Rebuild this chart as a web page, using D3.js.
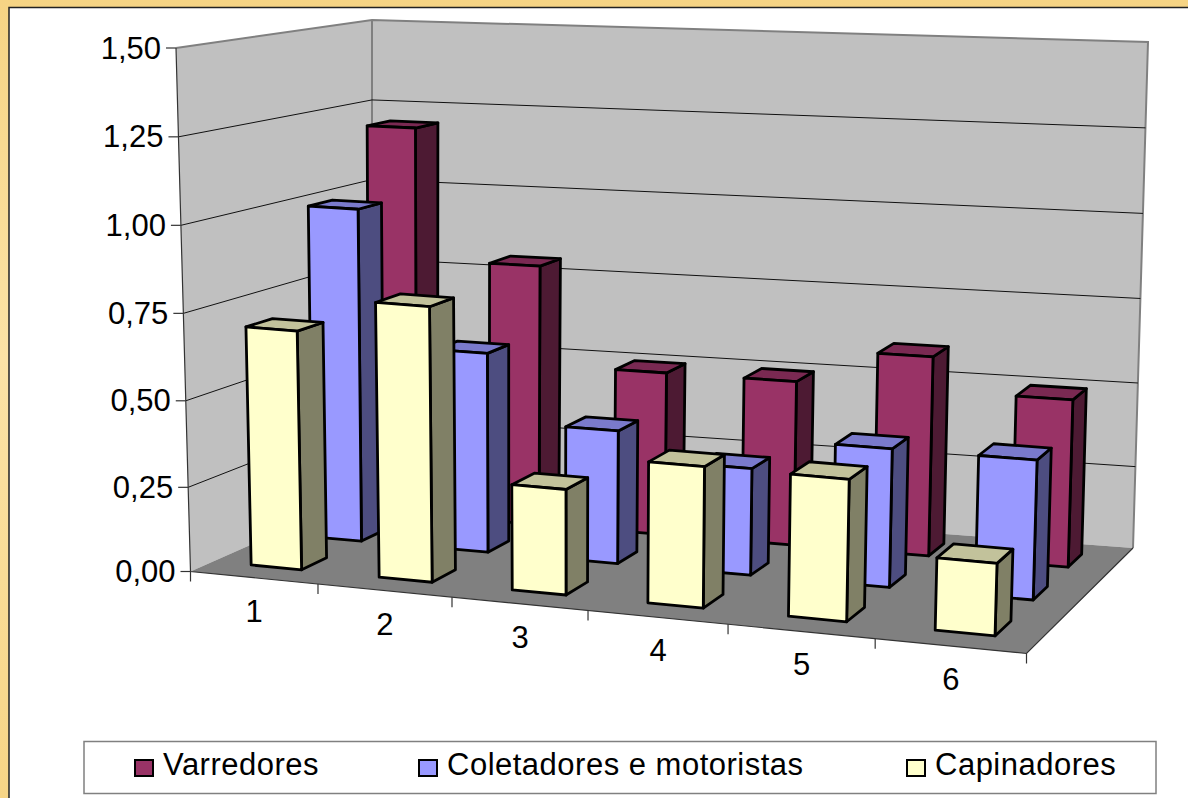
<!DOCTYPE html>
<html>
<head>
<meta charset="utf-8">
<script src="https://cdnjs.cloudflare.com/ajax/libs/d3/7.8.5/d3.min.js"></script>
<style>
  html, body { margin: 0; padding: 0; background: #fff; }
  svg { display: block; }
  text { font-family: "Liberation Sans", Arial, sans-serif; font-size: 31px; fill: #000; }
</style>
</head>
<body>
<div id="chart"></div>
<script>
// chart values
var categories = ["1", "2", "3", "4", "5", "6"];
var seriesNames = ["Varredores", "Coletadores e motoristas", "Capinadores"];
var varredores = [1.20, 0.80, 0.50, 0.50, 0.60, 0.50];
var coletadores = [1.00, 0.60, 0.40, 0.32, 0.41, 0.41];
var capinadores = [0.70, 0.80, 0.31, 0.41, 0.41, 0.21];
var valueTicks = [0, 0.25, 0.5, 0.75, 1, 1.25, 1.5];
var tickLabels = ["0,00", "0,25", "0,50", "0,75", "1,00", "1,25", "1,50"];
var seriesValues = [varredores, coletadores, capinadores];

var frontColors = ["#993366", "#9999FF", "#FFFFCC"];
var topColors = ["#7A2952", "#7A7ACC", "#C2C29B"];
var sideColors = ["#4D1A33", "#4D4D80", "#808066"];

var width = 1188, height = 798;

var svg = d3.select("#chart").append("svg")
    .attr("width", width)
    .attr("height", height);

// border gradient
var grad = svg.append("defs").append("linearGradient")
    .attr("id", "border").attr("x1", 0).attr("y1", 0).attr("x2", 0).attr("y2", 1);
grad.append("stop").attr("offset", "0").attr("stop-color", "#F6D484");
grad.append("stop").attr("offset", "0.45").attr("stop-color", "#FBE3A6");
grad.append("stop").attr("offset", "1").attr("stop-color", "#F7D586");

svg.append("rect").attr("width", width).attr("height", height).attr("fill", "url(#border)");
svg.append("rect")
    .attr("x", 9).attr("y", 7.5)
    .attr("width", width).attr("height", height)
    .attr("fill", "#fff").attr("stroke", "#222").attr("stroke-width", 1.5);

// bilinear map of the unit square onto a quad
function quadMap(q) {
    return function(u, v) {
        var a = 1 - u, b = 1 - v;
        return [
            b * (a * q[0][0] + u * q[1][0]) + v * (a * q[3][0] + u * q[2][0]),
            b * (a * q[0][1] + u * q[1][1]) + v * (a * q[3][1] + u * q[2][1])
        ];
    };
}

// front-left, front-right, back-right, back-left
var floorMap = quadMap([[190.5, 571.5], [1026.5, 653.5], [1133, 548], [372, 491]]);
var ceilMap = quadMap([[176, 48], [1043, 108], [1148, 42], [372, 20]]);

var x = d3.scaleBand().domain(categories).range([0, 1]).paddingInner(0.6).paddingOuter(0.3);
var xEdge = d3.scaleBand().domain(categories).range([0, 1]);
// back row first, depth 1 is the back wall
var z = d3.scaleBand().domain(seriesNames).range([1, 0]).paddingInner(0.6).paddingOuter(0.3);
var y = d3.scalePow().exponent(1.02).domain([0, 1.5]).range([0, 1]);
// slots get wider towards the viewer, rows tighter towards the back
var xWarp = d3.scaleLinear().domain([0, 1 / 6, 2 / 6, 3 / 6, 4 / 6, 5 / 6, 1])
    .range([0, 0.1525, 0.3128, 0.4755, 0.643, 0.819, 1]);
var zWarp = d3.scalePow().exponent(0.9).domain([0, 1]).range([0, 1]);

function project(u, d, value) {
    var uw = xWarp(u), dw = zWarp(d);
    var lo = floorMap(uw, dw), hi = ceilMap(uw, dw), t = y(value);
    return [lo[0] + (hi[0] - lo[0]) * t, lo[1] + (hi[1] - lo[1]) * t];
}

var line = d3.line();
function poly(points) { return line(points) + "Z"; }

// walls
svg.append("path").attr("fill", "#C0C0C0")
    .attr("d", poly([project(0, 0, 0), project(0, 1, 0), project(0, 1, 1.5), project(0, 0, 1.5)]));
svg.append("path").attr("fill", "#C0C0C0")
    .attr("d", poly([project(0, 1, 0), project(1, 1, 0), project(1, 1, 1.5), project(0, 1, 1.5)]));
svg.append("path").attr("fill", "#808080")
    .attr("d", poly([project(0, 0, 0), project(1, 0, 0), project(1, 1, 0), project(0, 1, 0)]));

// wall edges
svg.append("path").attr("fill", "none").attr("stroke", "#808080").attr("stroke-width", 2)
    .attr("d", line([project(0, 0, 1.5), project(0, 1, 1.5), project(1, 1, 1.5), project(1, 1, 0)]));
svg.append("path").attr("fill", "none").attr("stroke", "#808080").attr("stroke-width", 2)
    .attr("d", line([project(0, 1, 1.5), project(0, 1, 0)]));

// gridlines
valueTicks.forEach(function(t) {
    if (t === 0 || t === 1.5) return;
    svg.append("path").attr("fill", "none").attr("stroke", "#111").attr("stroke-width", 1)
        .attr("d", line([project(0, 0, t), project(0, 1, t), project(1, 1, t)]));
});

// axes
svg.append("path").attr("fill", "none").attr("stroke", "#333").attr("stroke-width", 1.2)
    .attr("d", line([project(0, 0, 1.5), project(0, 0, 0), project(1, 0, 0), project(1, 1, 0)]));

valueTicks.forEach(function(t, i) {
    var p = project(0, 0, t);
    svg.append("line").attr("stroke", "#333").attr("stroke-width", 1.2)
        .attr("x1", p[0] - 10).attr("x2", p[0]).attr("y1", p[1]).attr("y2", p[1]);
    svg.append("text").attr("x", p[0] - 15).attr("y", p[1] + 10.5)
        .attr("text-anchor", "end").text(tickLabels[i]);
});

var xTicks = [0, 1, 2, 3, 4, 5, 6];
xTicks.forEach(function(t) {
    var p = project(t / categories.length, 0, 0);
    svg.append("line").attr("stroke", "#333").attr("stroke-width", 1.2)
        .attr("x1", p[0]).attr("x2", p[0]).attr("y1", p[1]).attr("y2", p[1] + 10);
});

categories.forEach(function(c) {
    var p = project(xEdge(c) + xEdge.bandwidth() / 2, 0, 0);
    svg.append("text").attr("x", p[0]).attr("y", p[1] + 44)
        .attr("text-anchor", "middle").text(c);
});

// bars, back row first, left to right
seriesNames.forEach(function(name, s) {
    var u0, u1, d0 = z(name), d1 = d0 + z.bandwidth();
    categories.forEach(function(c, i) {
        u0 = x(c);
        u1 = u0 + x.bandwidth();
        var v = seriesValues[s][i];
        var g = svg.append("g")
            .attr("stroke", "#000").attr("stroke-width", 2.8).attr("stroke-linejoin", "round");
        g.append("path").attr("fill", sideColors[s])
            .attr("d", poly([project(u1, d0, 0), project(u1, d1, 0), project(u1, d1, v), project(u1, d0, v)]));
        g.append("path").attr("fill", topColors[s])
            .attr("d", poly([project(u0, d0, v), project(u1, d0, v), project(u1, d1, v), project(u0, d1, v)]));
        g.append("path").attr("fill", frontColors[s])
            .attr("d", poly([project(u0, d0, 0), project(u1, d0, 0), project(u1, d0, v), project(u0, d0, v)]));
    });
});

// legend
svg.append("rect")
    .attr("x", 84).attr("y", 741.5).attr("width", 1072).attr("height", 52)
    .attr("fill", "#fff").attr("stroke", "#808080").attr("stroke-width", 1.5);

var legendX = d3.scaleOrdinal().domain(seriesNames).range([135, 419, 907]);
seriesNames.forEach(function(name, s) {
    svg.append("rect")
        .attr("x", legendX(name)).attr("y", 760).attr("width", 18).attr("height", 16)
        .attr("fill", frontColors[s]).attr("stroke", "#000").attr("stroke-width", 2);
    svg.append("text").attr("x", legendX(name) + 28).attr("y", 775)
        .style("letter-spacing", "0.5px").text(name);
});
</script>
</body>
</html>
